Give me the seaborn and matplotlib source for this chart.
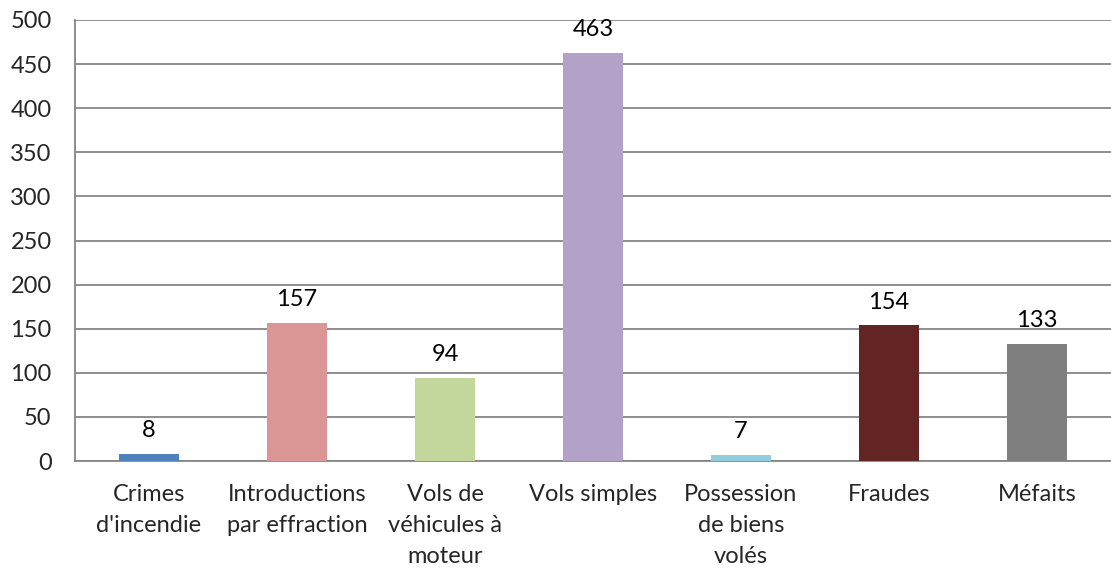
import matplotlib
matplotlib.use('Agg')
import matplotlib.pyplot as plt
import seaborn as sns
import pandas as pd

# Data
categories = ["Crimes\nd'incendie", "Introductions\npar effraction", "Vols de\nvéhicules à\nmoteur",
              "Vols simples", "Possession\nde biens\nvolés", "Fraudes", "Méfaits"]
values = [8, 157, 94, 463, 7, 154, 133]
colors = ['#4F81BD', '#D99694', '#C3D69B', '#B3A2C7', '#93CDDD', '#632523', '#7F7F7F']
y_ticks = [0, 50, 100, 150, 200, 250, 300, 350, 400, 450, 500]

sns.set_style('white')
plt.rcParams['font.family'] = ['Lato', 'DejaVu Sans']

df = pd.DataFrame({'cat': categories, 'val': values})

W, H = 1111, 574
fig = plt.figure(figsize=(W / 100, H / 100), dpi=100)
ax = fig.add_axes([75 / W, 1 - 461 / H, (1111 - 75) / W, (461 - 20) / H])

sns.barplot(data=df, x='cat', y='val', hue='cat', palette=colors, legend=False,
            width=0.405, saturation=1, linewidth=0, ax=ax, zorder=3)

fs = 17
ax.set_ylim(0, 500)
ax.set_xlim(-0.5, len(categories) - 0.5)
ax.set_yticks(y_ticks)
ax.set_yticklabels([str(t) for t in y_ticks], fontsize=fs)
ax.set_xlabel('')
ax.set_ylabel('')
ax.yaxis.grid(True, color='#868686', linewidth=1.3, zorder=0)
ax.set_axisbelow(True)

# x ticks between categories
ax.set_xticks([i + 0.5 for i in range(-1, len(categories))], minor=True)
ax.tick_params(axis='x', which='minor', length=5.8, width=1.3, color='#868686', direction='out')
ax.tick_params(axis='x', which='major', length=0, pad=16.5, labelsize=fs)
ax.tick_params(axis='y', length=5.8, width=1.3, color='#868686', direction='out', pad=11)
for lbl in ax.get_xticklabels():
    lbl.set_linespacing(1.6)
    lbl.set_verticalalignment('top')

for s in ['top', 'right']:
    ax.spines[s].set_visible(False)
for s in ['left', 'bottom']:
    ax.spines[s].set_color('#868686')
    ax.spines[s].set_linewidth(1.3)

for i, v in enumerate(values):
    ax.annotate(str(v), (i, v), xytext=(0, 12), textcoords='offset points',
                ha='center', va='baseline', fontsize=fs, color='black')

fig.savefig('out.png', dpi=100)
